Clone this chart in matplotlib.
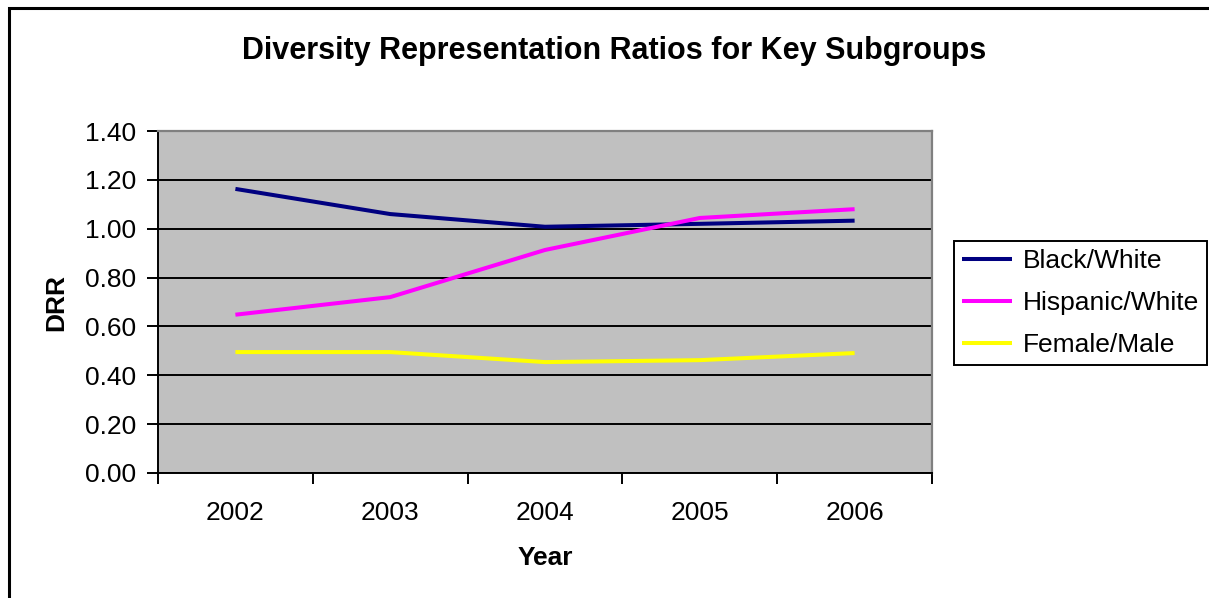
import matplotlib
matplotlib.use("Agg")
import matplotlib.pyplot as plt
from matplotlib.patches import Rectangle

plt.rcParams['font.family'] = ['Liberation Sans', 'DejaVu Sans']

years = ["2002", "2003", "2004", "2005", "2006"]
black_white = [1.163, 1.06, 1.008, 1.02, 1.033]
hispanic_white = [0.648, 0.72, 0.913, 1.044, 1.08]
female_male = [0.495, 0.495, 0.454, 0.462, 0.491]
yticks = [0.0, 0.2, 0.4, 0.6, 0.8, 1.0, 1.2, 1.4]

W, H = 1209, 598
fig = plt.figure(figsize=(W / 100, H / 100), dpi=100)

# outer frame
fig.patches.append(Rectangle((9 / W, -0.1), 1.2, (H - 8) / H + 0.1, transform=fig.transFigure,
                             fill=False, edgecolor='black', linewidth=2.2, zorder=0))

left, right, top, bottom = 158, 932, 131, 473
ax = fig.add_axes([left / W, 1 - bottom / H, (right - left) / W, (bottom - top) / H])
ax.set_facecolor('#C0C0C0')

x = list(range(len(years)))
ax.plot(x, black_white, color='#000080', lw=2.9, label='Black/White', solid_capstyle='butt', zorder=3)
ax.plot(x, hispanic_white, color='#FF00FF', lw=2.9, label='Hispanic/White', solid_capstyle='butt', zorder=3)
ax.plot(x, female_male, color='#FFFF00', lw=2.9, label='Female/Male', solid_capstyle='butt', zorder=3)

ax.set_xlim(-0.5, len(years) - 0.5)
ax.set_ylim(0, 1.4)
ax.set_yticks(yticks)
ax.set_yticklabels([f"{v:.2f}" for v in yticks], fontsize=19)
ax.yaxis.grid(True, color='black', linewidth=1.4)
ax.set_axisbelow(True)

ax.set_xticks(x)
ax.set_xticklabels(years, fontsize=19)
ax.tick_params(axis='x', which='major', length=0, pad=20)
ax.set_xticks([i - 0.5 for i in range(len(years) + 1)], minor=True)
ax.tick_params(axis='x', which='minor', length=8, width=1.4, direction='out', color='black')
ax.tick_params(axis='y', length=8, width=1.4, direction='out', pad=8)

for s in ['left', 'bottom']:
    ax.spines[s].set_color('black')
    ax.spines[s].set_linewidth(1.4)
for s in ['top', 'right']:
    ax.spines[s].set_color('#808080')
    ax.spines[s].set_linewidth(1.6)

ax.set_xlabel('Year', fontsize=19, fontweight='bold', labelpad=15)
ax.set_ylabel('DRR', fontsize=19, fontweight='bold', labelpad=12)

fig.text(614 / W, 1 - 51 / H, 'Diversity Representation Ratios for Key Subgroups',
         ha='center', va='center', fontsize=22, fontweight='bold')

leg = ax.legend(loc='center left', bbox_to_anchor=(954 / W, 1 - 303 / H), bbox_transform=fig.transFigure,
                fontsize=19, frameon=True, fancybox=False, edgecolor='black', framealpha=1,
                handlelength=1.9, handletextpad=0.4, borderpad=0.3, labelspacing=0.68, borderaxespad=0)
leg.get_frame().set_linewidth(1.4)

fig.savefig('out.png', dpi=100)
